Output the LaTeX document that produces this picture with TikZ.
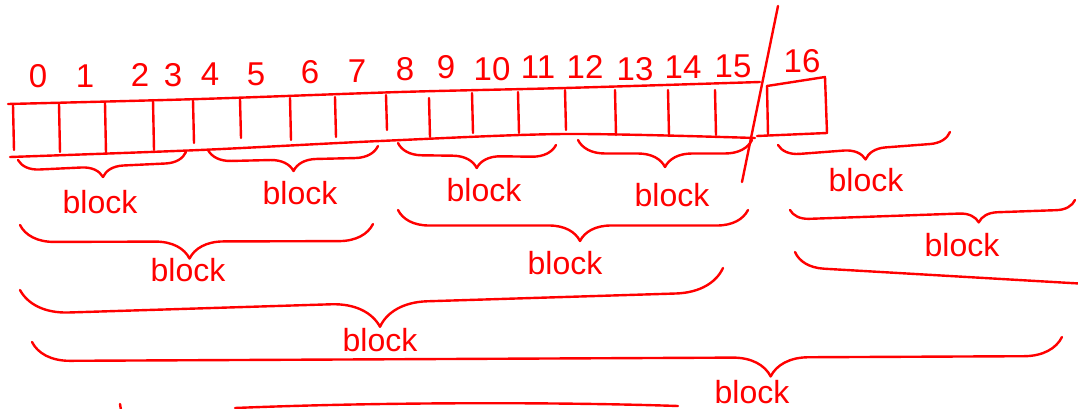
\documentclass[tikz,border=0pt]{standalone}
\usepackage{fontspec}
\setsansfont{Liberation Sans}
\usetikzlibrary{decorations.pathreplacing}

\begin{document}
\begin{tikzpicture}[x=1pt,y=-1pt,
   ink/.style={draw=red, line width=2.4pt, line cap=round, line join=round},
   curly/.style={ink, decorate, decoration={brace, mirror, amplitude=#1}},
   word/.style={text=red, font=\sffamily\fontsize{32}{34}\selectfont, inner sep=0pt},
   idx/.style={text=red, font=\sffamily\fontsize{33}{35}\selectfont, inner sep=0pt}]

   \useasboundingbox (0,0) rectangle (1078,409);
   \clip (0,0) rectangle (1078,409);

%  the array
   \draw[ink] plot[smooth] coordinates {(8,104) (200,99) (400,92) (565,88) (760,82)};
   \draw[ink] plot[smooth] coordinates {(10,157) (200,150) (380,141) (565,134) (755,138)};
   \draw[ink] (767,86) -- (825,77) -- (827,133);
   \draw[ink] (757,136) -- (827,133);
   \foreach \x/\a/\b in {13/105/150, 59/104/152, 105/103/153, 153/100/150,
                         193/100/143, 240/99/138, 290/98/140, 335/97/137,
                         386/95/130, 429/98/137, 472/93/133, 518/92/133,
                         565/90/130, 615/90/135, 668/90/135, 715/90/135, 767/86/135}
      \draw[ink] (\x,\a) -- (\x+1,\b);

%  the cut
   \draw[ink] (778,6) -- (742,182);

%  indices
   \foreach \i/\x/\y in {0/38/76, 1/85/76, 2/140/75, 3/173/75, 4/210/74, 5/256/74,
                         6/310/72, 7/357/71, 8/405/69, 9/446/67, 10/492/69, 11/538/67,
                         12/585/67, 13/635/69, 14/683/67, 15/733/66, 16/802/61}
      \draw(\x,\y) node[idx] (i\i) {\i};

%  first level
   \draw[curly=21] (18,160) -- (186,152);
   \draw[curly=23] (208,150) -- (378,146);
   \draw[curly=24] (398,143) -- (556,145);
   \draw[curly=27] (578,140) -- (752,140);
   \draw[curly=21] (778,145) -- (950,132);
   \draw(100,202) node[word] (b1) {block};
   \draw(300,193) node[word] (b2) {block};
   \draw(484,190) node[word] (b3) {block};
   \draw(672,195) node[word] (b4) {block};
   \draw(866,180) node[word] (b5) {block};

%  second level
   \draw[curly=34, decoration={aspect=0.48}] (20,225) -- (373,224);
   \draw[curly=31, decoration={aspect=0.52}] (398,210) -- (748,210);
   \draw[curly=19, decoration={aspect=0.66}] (790,210) -- (1075,200);
   \draw(188,270) node[word] (b12) {block};
   \draw(565,263) node[word] (b34) {block};
   \draw(962,245) node[word] (b56) {block};

%  third level
   \draw[curly=48, decoration={aspect=0.51}] (20,290) -- (723,268);
   \draw[curly=30] (795,252) -- (1450,290);
   \draw(380,340) node[word] (b14) {block};

%  fourth level
   \draw[curly=38, decoration={aspect=0.717}] (32,342) -- (1062,337);
   \draw(752,403) node[word, anchor=base] (b18) {block};
   \draw[ink] (120,404) -- (121,410);
   \draw[ink] (235,408) .. controls (380,402) and (560,402) .. (678,406);

\end{tikzpicture}
\end{document}
